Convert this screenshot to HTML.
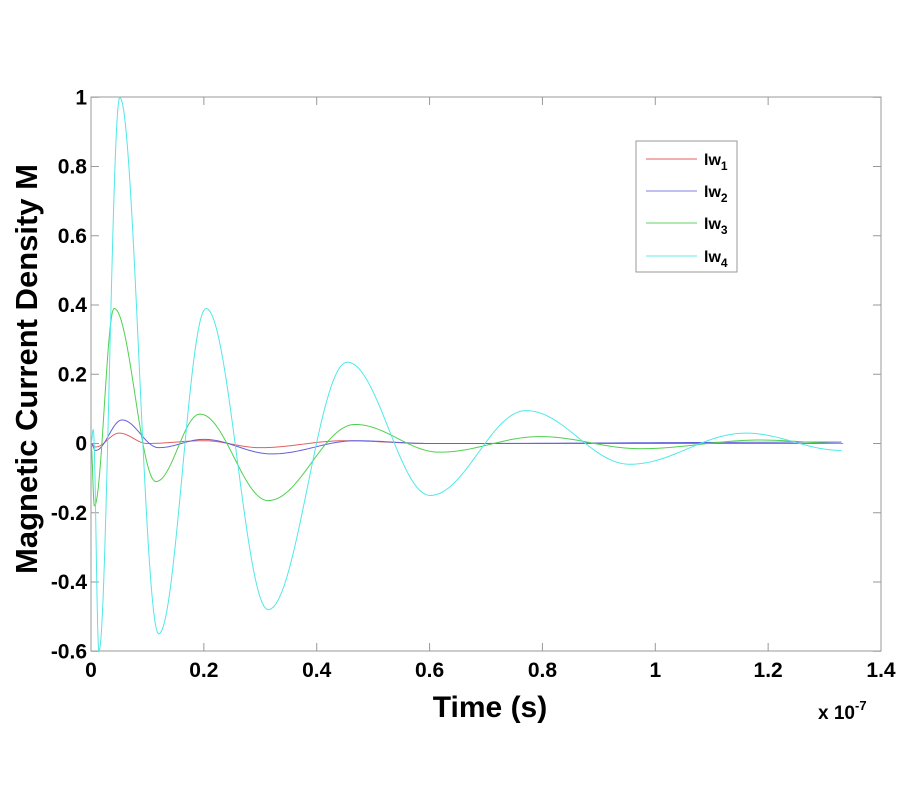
<!DOCTYPE html>
<html><head><style>body{margin:0;background:#fff}svg{display:block}text{font-family:"Liberation Sans",Arial,sans-serif;font-weight:bold;fill:#000}</style></head>
<body>
<svg id="s" width="900" height="800" xmlns="http://www.w3.org/2000/svg">
<rect width="900" height="800" fill="#fff"/>
<rect x="91" y="97" width="790" height="554" fill="none" stroke="#999" stroke-width="1"/>
<g id="ticks" stroke="#999"></g>
<g id="labels" font-size="21"></g>
<g id="curves" fill="none" stroke-width="1"></g>
<text x="490" y="717" font-size="30" text-anchor="middle">Time (s)</text>
<text x="818" y="719" font-size="19">x 10<tspan font-size="13" dy="-9">-7</tspan></text>
<text transform="translate(37,369) rotate(-90)" font-size="31" text-anchor="middle">Magnetic Current Density M</text>
<rect x="636" y="141" width="101" height="131" fill="#fff" stroke="#999"/>
<line x1="646" y1="159" x2="697" y2="159" stroke="#e06060"/>
<line x1="646" y1="191" x2="697" y2="191" stroke="#8080e0"/>
<line x1="646" y1="223" x2="697" y2="223" stroke="#60d060"/>
<line x1="646" y1="256" x2="697" y2="256" stroke="#60e8e8"/>
<text x="704" y="165" font-size="16">lw<tspan font-size="12" dy="5">1</tspan></text>
<text x="704" y="197" font-size="16">lw<tspan font-size="12" dy="5">2</tspan></text>
<text x="704" y="229" font-size="16">lw<tspan font-size="12" dy="5">3</tspan></text>
<text x="704" y="262" font-size="16">lw<tspan font-size="12" dy="5">4</tspan></text>
</svg>
<script>
var NS="http://www.w3.org/2000/svg";
function X(t){return 91+t*790/1.4}
function Y(v){return 443.5-v*346.25}
var tk=document.getElementById("ticks"),lb=document.getElementById("labels");
function el(p,n,a,txt){var e=document.createElementNS(NS,n);for(var k in a)e.setAttribute(k,a[k]);if(txt)e.textContent=txt;p.appendChild(e);}
for(var i=0;i<=7;i++){var t=i*0.2,x=X(t);
el(tk,"line",{x1:x,y1:651,x2:x,y2:643});el(tk,"line",{x1:x,y1:97,x2:x,y2:105});
el(lb,"text",{x:x,y:677,"text-anchor":"middle"},i==0?"0":(Math.round(t*10)/10).toString());}
for(var i=0;i<=8;i++){var v=-0.6+i*0.2,y=Y(v);
el(tk,"line",{x1:91,y1:y,x2:99,y2:y});el(tk,"line",{x1:881,y1:y,x2:873,y2:y});
var s=Math.abs(v)<1e-9?"0":(Math.round(v*10)/10).toString();
el(lb,"text",{x:87,y:y+7,"text-anchor":"end"},s);}
var data={
"#e06060":[[0,0],[0.008,-0.01],[0.05,0.03],[0.1,0],[0.2,0.008],[0.3,-0.012],[0.45,0.008],[0.6,0],[1.33,0]],
"#6060e0":[[0,0],[0.008,-0.02],[0.055,0.068],[0.12,-0.012],[0.2,0.012],[0.32,-0.03],[0.47,0.008],[0.6,0],[1.33,0.004]],
"#50d050":[[0,0],[0.006,-0.18],[0.041,0.39],[0.115,-0.11],[0.193,0.085],[0.314,-0.165],[0.468,0.055],[0.618,-0.025],[0.796,0.02],[0.973,-0.015],[1.186,0.01],[1.333,0]],
"#50e8e8":[[0,0],[0.004,0.04],[0.014,-0.6],[0.051,1.0],[0.12,-0.55],[0.204,0.39],[0.314,-0.48],[0.454,0.235],[0.601,-0.15],[0.771,0.095],[0.955,-0.06],[1.16,0.03],[1.33,-0.02]]};
var cv=document.getElementById("curves");
for(var c in data){var p=data[c],pts=[];
for(var j=0;j<p.length-1;j++){var a=p[j],b=p[j+1];for(var k=0;k<30;k++){var f=k/30,g=(1-Math.cos(Math.PI*f))/2;
pts.push(X(a[0]+(b[0]-a[0])*f).toFixed(2)+","+Y(a[1]+(b[1]-a[1])*g).toFixed(2));}}
var l=p[p.length-1];pts.push(X(l[0]).toFixed(2)+","+Y(l[1]).toFixed(2));
el(cv,"polyline",{points:pts.join(" "),stroke:c});}
</script>
</body></html>
